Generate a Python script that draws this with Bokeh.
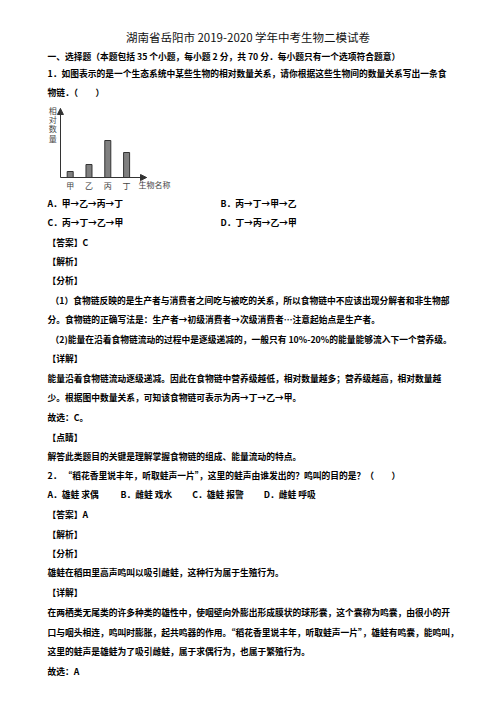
from bokeh.plotting import figure
from bokeh.models import (Range1d, FixedTicker, Label, Arrow, NormalHead,
                          ColumnDataSource, LinearAxis)
from bokeh.layouts import column
from bokeh.embed import file_html
from bokeh.resources import INLINE
from bokeh.core.properties import value

# ---------------- data ----------------
species = ["甲", "乙", "丙", "丁"]
species_pos = [1, 2, 3, 4]
relative_amount = [6, 13, 37, 25]
y_axis_title = "相对数量"
x_axis_title = "生物名称"

title_text = "湖南省岳阳市 2019-2020 学年中考生物二模试卷"

top_lines = [
    "一、选择题（本题包括 35 个小题，每小题 2 分，共 70 分．每小题只有一个选项符合题意）",
    "1．如图表示的是一个生态系统中某些生物的相对数量关系，请你根据这些生物间的数量关系写出一条食",
    "物链．（　　）",
]

bottom_lines = [
    "A．甲→乙→丙→丁",
    "B．丙→丁→甲→乙",
    "C．丙→丁→乙→甲",
    "D．丁→丙→乙→甲",
    "【答案】C",
    "【解析】",
    "【分析】",
    "（1）食物链反映的是生产者与消费者之间吃与被吃的关系，所以食物链中不应该出现分解者和非生物部",
    "分。食物链的正确写法是：生产者→初级消费者→次级消费者…注意起始点是生产者。",
    "（2)能量在沿着食物链流动的过程中是逐级递减的，一般只有 10%-20%的能量能够流入下一个营养级。",
    "【详解】",
    "能量沿着食物链流动逐级递减。因此在食物链中营养级越低，相对数量越多；营养级越高，相对数量越",
    "少。根据图中数量关系，可知该食物链可表示为丙→丁→乙→甲。",
    "故选：C。",
    "【点睛】",
    "解答此类题目的关键是理解掌握食物链的组成、能量流动的特点。",
    "2．  “稻花香里说丰年，听取蛙声一片”，这里的蛙声由谁发出的？鸣叫的目的是？（　　）",
    "A．雄蛙 求偶",
    "B．雌蛙 戏水",
    "C．雄蛙 报警",
    "D．雌蛙 呼吸",
    "【答案】A",
    "【解析】",
    "【分析】",
    "雄蛙在稻田里高声鸣叫以吸引雌蛙，这种行为属于生殖行为。",
    "【详解】",
    "在两栖类无尾类的许多种类的雄性中，使咽壁向外膨出形成膜状的球形囊，这个囊称为鸣囊，由很小的开",
    "口与咽头相连，鸣叫时膨胀，起共鸣器的作用。“稻花香里说丰年，听取蛙声一片”，雄蛙有鸣囊，能鸣叫，",
    "这里的蛙声是雄蛙为了吸引雌蛙，属于求偶行为，也属于繁殖行为。",
    "故选：A",
]

# ---------------- layout (page pixel positions) ----------------
top_x = [47, 47, 47]
top_y = [56, 72.7, 91.7]
bottom_x = [47, 220, 47, 220, 47, 47, 47, 50, 47, 50, 47, 47, 47, 47, 47, 47, 47,
            47, 120, 191.7, 263.3, 47, 47, 47, 47, 47, 47, 47, 47, 47]
bottom_y = [202.7, 202.7, 222.3, 222.3, 241.7, 261, 280.3, 300, 319, 339.3, 358.3,
            378.3, 397.3, 416.7, 436.7, 455.7, 475, 494.3, 494.3, 494.3, 494.3,
            514, 534, 553.3, 572.3, 592.3, 611.7, 631.7, 651, 671]

CJK = value("Noto Sans CJK SC")
BODY_SIZE = "8.75px"
AX = "#333333"
LBL = "#444444"
PAGE_W = 480


def base_fig(height, x_range, y_range):
    p = figure(width=PAGE_W, height=height, x_range=x_range, y_range=y_range,
               output_backend="svg", toolbar_location=None,
               x_axis_location=None, y_axis_location=None,
               min_border=0, outline_line_color=None,
               background_fill_color="white", border_fill_color="white")
    p.xgrid.visible = False
    p.ygrid.visible = False
    return p


# ---- top text block (page y 0..100) ----
p_top = base_fig(100, Range1d(0, PAGE_W), Range1d(100, 0))
p_top.text(x=[247.5], y=[36.7], text=[title_text], text_font=CJK,
           text_font_size="11.5px", text_align="center", text_baseline="middle",
           text_color="#111111")
p_top.text(x="x", y="y", text="t",
           source=ColumnDataSource(dict(x=top_x, y=top_y, t=top_lines)),
           text_font=CJK, text_font_style="bold", text_font_size=BODY_SIZE,
           text_align="left", text_baseline="middle", text_color="#000000")

# ---- chart (page y 100..195), frame spans full width ----
p_chart = base_fig(95, Range1d(-2.707, 22.825), Range1d(-18, 77))
p_chart.vbar(x=species_pos, top=relative_amount, width=0.32, bottom=0,
             fill_color="#808080", line_color=AX, line_width=1)

xa = LinearAxis(fixed_location=0, bounds=(0.48, 5.06),
                ticker=FixedTicker(ticks=species_pos))
xa.major_label_overrides = {k: v for k, v in zip(species_pos, species)}
xa.major_tick_in = 0
xa.major_tick_out = 0
xa.minor_tick_in = 0
xa.minor_tick_out = 0
xa.major_label_standoff = 2
xa.major_label_text_font = "Noto Sans CJK SC"
xa.major_label_text_font_size = "8px"
xa.major_label_text_color = LBL
xa.axis_line_color = AX
p_chart.add_layout(xa, "below")

ya = LinearAxis(fixed_location=0.48, bounds=(0, 69), ticker=FixedTicker(ticks=[]))
ya.major_tick_in = 0
ya.major_tick_out = 0
ya.minor_tick_in = 0
ya.minor_tick_out = 0
ya.major_label_text_font_size = "0px"
ya.axis_line_color = AX
p_chart.add_layout(ya, "left")

# axis arrows
p_chart.add_layout(Arrow(end=NormalHead(size=6, fill_color=AX, line_color=AX),
                         x_start=0.48, y_start=62, x_end=0.48, y_end=69,
                         line_color=AX, line_width=1))
p_chart.add_layout(Arrow(end=NormalHead(size=6, fill_color=AX, line_color=AX),
                         x_start=4.7, y_start=0, x_end=5.06, y_end=0,
                         line_color=AX, line_width=1))

# axis titles
p_chart.add_layout(Label(x=4.63, y=-7, text=x_axis_title, text_font="Noto Sans CJK SC",
                         text_font_size="8px", text_color=LBL,
                         text_align="left", text_baseline="middle"))
for i, ch in enumerate(y_axis_title):
    p_chart.add_layout(Label(x=0.075, y=67 - 9.2 * i, text=ch, text_font="Noto Sans CJK SC",
                             text_font_size="8px", text_color=LBL,
                             text_align="center", text_baseline="middle"))

# ---- bottom text block (page y 195..694) ----
p_bottom = base_fig(499, Range1d(0, PAGE_W), Range1d(694, 195))
p_bottom.text(x="x", y="y", text="t",
              source=ColumnDataSource(dict(x=bottom_x, y=bottom_y, t=bottom_lines)),
              text_font=CJK, text_font_style="bold", text_font_size=BODY_SIZE,
              text_align="left", text_baseline="middle", text_color="#000000")

layout = column(p_top, p_chart, p_bottom, spacing=0)
open("out.html", "w").write(file_html(layout, INLINE))
